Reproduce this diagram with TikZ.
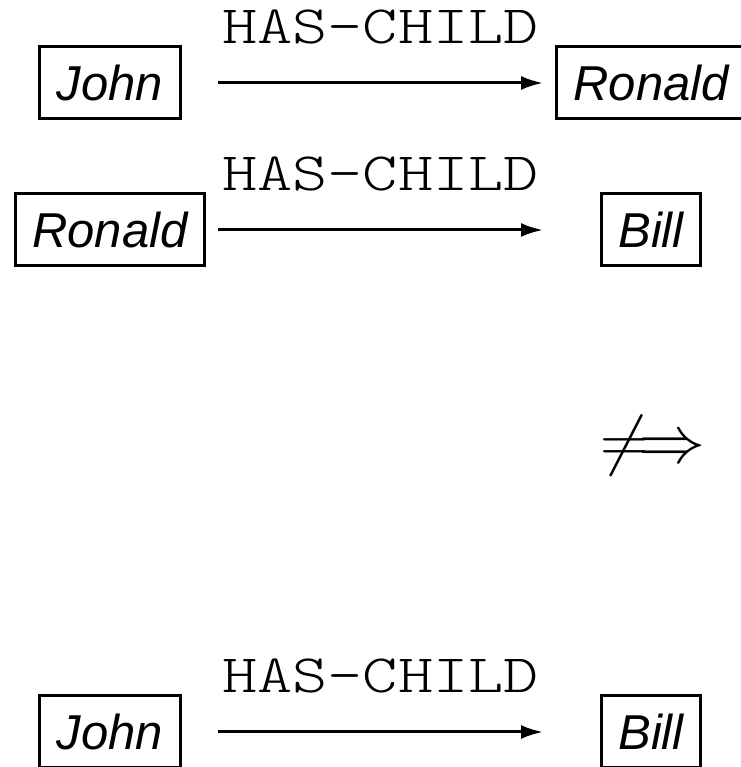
\RequirePackage{fix-cm}
\documentclass[tikz,border=0pt]{standalone}
\usepackage{amsmath,amssymb}
\usepackage{fontspec}
\setsansfont{Liberation Sans}
\newfontfamily\relfont[FakeStretch=1.24]{Latin Modern Mono Light}
\usepackage{tikz}
\usetikzlibrary{arrows,arrows.meta,positioning}

\begin{document}
\begin{tikzpicture}[x=1pt, y=1pt]
   \useasboundingbox (0,0) rectangle (740,767);
   \begin{scope}[every node/.style={draw, line width=3pt, minimum height=72pt, inner xsep=17pt, font=\fontsize{49}{58}\selectfont\sffamily\itshape}]
    \node (p1) at (110,684) {John};
    \node (c1) [anchor=west] at (555,684) {Ronald};
    \node (p2) at (110,537) {Ronald};
    \node (c2) at (651,537) {Bill};
    \node (p3) at (110,35) {John};
    \node (c3) at (651,35) {Bill};
   \end{scope}
   % arrow ends
   \coordinate (s1) at (218,684);
   \coordinate (t1) at (543,684);
   \coordinate (s2) at (218,537);
   \coordinate (t2) at (543,537);
   \coordinate (s3) at (218,35);
   \coordinate (t3) at (543,35);
   \begin{scope}[every edge/.style={draw=black, line width=3pt, -{Latex[length=22pt,width=14pt]}}, every node/.style={font=\fontsize{54}{64}\selectfont\relfont, inner sep=0pt}]
    \draw (s1) edge node[above=37pt]{HAS-CHILD} (t1);
    \draw (s2) edge node[above=37pt]{HAS-CHILD} (t2);
    \draw (s3) edge node[above=37pt]{HAS-CHILD} (t3);
   \end{scope}
   \node (ni) at (653,321) {\fontsize{67}{80}\selectfont$\not\Longrightarrow$};
\end{tikzpicture}
\end{document}
